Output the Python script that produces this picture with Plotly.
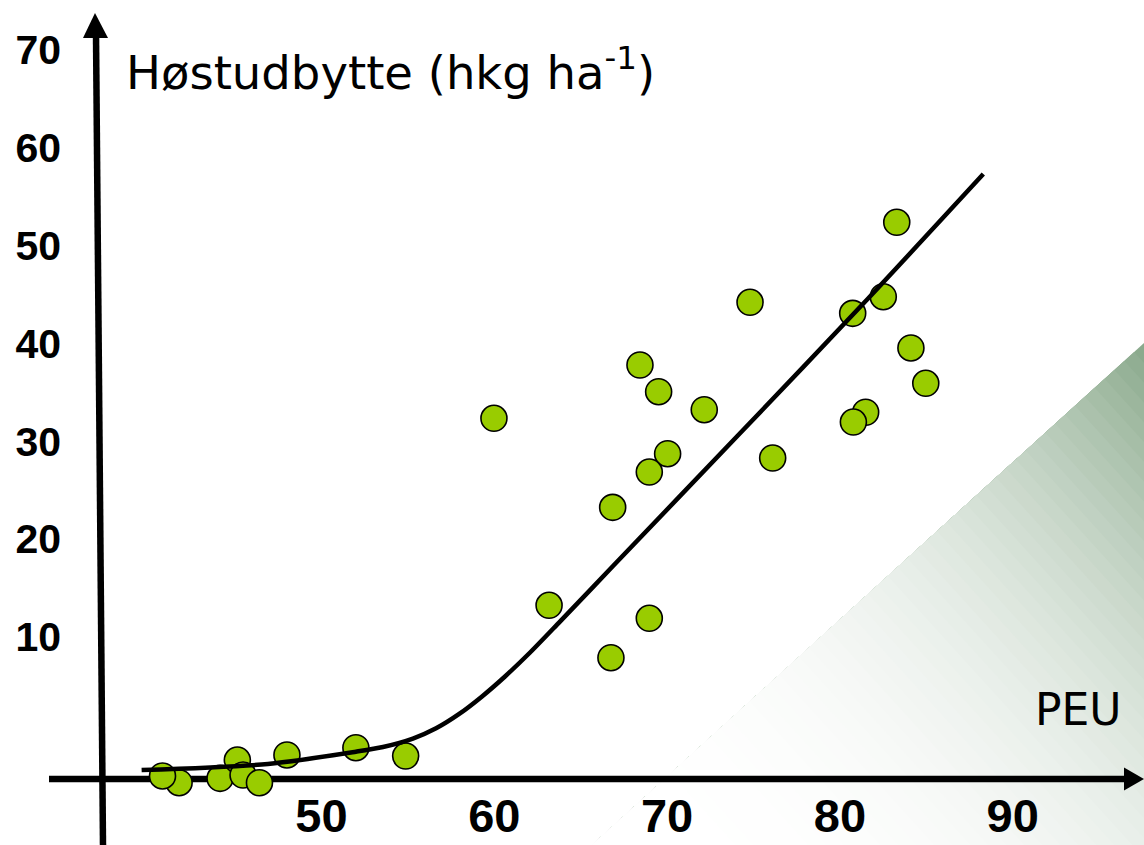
import plotly.graph_objects as go

W, H = 1144, 845

# ---------------- data ----------------
peu = [41.76, 40.80, 44.13, 45.13, 45.46, 46.41, 48.00, 51.99, 54.87,
       59.98, 63.17, 66.75, 66.85, 68.43, 68.97, 70.03, 68.97, 69.51,
       72.15, 74.80, 76.11, 81.49, 80.78, 80.74, 82.51, 83.29, 84.11, 84.97]
hostudbytte = [-4.90, -4.21, -4.45, -2.58, -4.11, -4.90, -2.06, -1.32, -2.17,
               32.35, 13.24, 7.88, 23.25, 37.80, 11.91, 28.73, 26.86, 35.07,
               33.23, 44.21, 28.29, 32.97, 31.97, 43.08, 44.78, 52.39, 39.54, 35.93]

curve_x = [39.59, 46.90, 51.99, 53.56, 55.29, 56.63, 57.97, 59.29, 60.62, 62.07,
           63.80, 66.87, 74.22, 81.55, 88.30]
curve_y = [-3.60, -2.98, -1.73, -1.25, -0.39, 0.66, 2.13, 3.92, 5.96, 8.41,
           11.57, 17.25, 30.82, 44.44, 57.32]

x_ticks = [50, 60, 70, 80, 90]
y_ticks = [10, 20, 30, 40, 50, 60, 70]

y_title = "Høstudbytte (hkg ha<sup>-1</sup>)"
x_title = "PEU"

# ---------------- layout geometry (pixels) ----------------
X_AX_PX = 779     # pixel row of the horizontal axis
Y_AX_PX = 99      # pixel column of the vertical axis
PX_PER_X = 17.28
X70_PX = 667.1
PX_PER_Y = 9.783
Y0_PX = 734.8

x_at = lambda px: 70 + (px - X70_PX) / PX_PER_X
y_at = lambda py: (Y0_PX - py) / PX_PER_Y
px2paper = lambda px, py: (px / W, 1 - py / H)

fig = go.Figure()

fig.add_trace(go.Scatter(
    x=peu, y=hostudbytte, mode="markers",
    marker=dict(size=26, color="#99cc00", line=dict(color="black", width=1.6)),
    hoverinfo="skip", showlegend=False, cliponaxis=False))

fig.add_trace(go.Scatter(
    x=curve_x, y=curve_y, mode="lines",
    line=dict(color="black", width=4.5, shape="spline", smoothing=0.8),
    hoverinfo="skip", showlegend=False, cliponaxis=False))

# ---------------- gradient triangle in the lower right ----------------
A = (1144.0, 343.0)
B = (1144.0, 845.0)
C = (592.0, 845.0)
ux, uy = C[0] - A[0], C[1] - A[1]
LEN = (ux * ux + uy * uy) ** 0.5
ux, uy = ux / LEN, uy / LEN


def tval(p):
    return ((p[0] - A[0]) * ux + (p[1] - A[1]) * uy) / LEN


def clip(poly, t0):
    out = []
    n = len(poly)
    for i in range(n):
        p, q = poly[i], poly[(i + 1) % n]
        tp, tq = tval(p) - t0, tval(q) - t0
        if tp >= 0:
            out.append(p)
        if (tp >= 0) != (tq >= 0):
            f = tp / (tp - tq)
            out.append((p[0] + f * (q[0] - p[0]), p[1] + f * (q[1] - p[1])))
    return out


dark = (136, 168, 138)
shapes = []
N = 56
for k in range(N):
    t0 = k / N
    poly = clip([A, B, C], t0)
    if len(poly) < 3:
        continue
    tm = (k + 0.5) / N
    L = 1 - (1 - tm) ** 2.8
    col = "rgb(%d,%d,%d)" % tuple(round(c + (255 - c) * L) for c in dark)
    pts = [px2paper(*p) for p in poly]
    path = "M " + " L ".join("%.5f,%.5f" % p for p in pts) + " Z"
    shapes.append(dict(type="path", path=path, xref="paper", yref="paper",
                       fillcolor=col, line=dict(width=0), layer="below"))

# ---------------- axis arrows ----------------
lw = 6.5
x0p, y0p = px2paper(49, X_AX_PX)
x1p, _ = px2paper(1128, X_AX_PX)
shapes.append(dict(type="line", xref="paper", yref="paper", x0=x0p, y0=y0p, x1=x1p, y1=y0p,
                   line=dict(color="black", width=lw), layer="below"))
tri = [px2paper(1144, X_AX_PX), px2paper(1124, X_AX_PX - 11.5), px2paper(1124, X_AX_PX + 11.5)]
shapes.append(dict(type="path", xref="paper", yref="paper",
                   path="M " + " L ".join("%.5f,%.5f" % p for p in tri) + " Z",
                   fillcolor="black", line=dict(width=0), layer="below"))

ya0 = px2paper(103, 845)
ya1 = px2paper(96, 34)
shapes.append(dict(type="line", xref="paper", yref="paper", x0=ya0[0], y0=ya0[1], x1=ya1[0], y1=ya1[1],
                   line=dict(color="black", width=lw), layer="below"))
tri = [px2paper(95, 13), px2paper(83, 38), px2paper(108, 38)]
shapes.append(dict(type="path", xref="paper", yref="paper",
                   path="M " + " L ".join("%.5f,%.5f" % p for p in tri) + " Z",
                   fillcolor="black", line=dict(width=0), layer="below"))

annotations = [
    dict(text=y_title, xref="paper", yref="paper", x=124 / W, y=1 - 70 / H,
         xanchor="left", yanchor="middle", showarrow=False,
         font=dict(family="DejaVu Sans", size=46.5, color="black")),
    dict(text=x_title, xref="paper", yref="paper", x=1124 / W, y=1 - 709 / H,
         xanchor="right", yanchor="middle", showarrow=False,
         font=dict(family="DejaVu Sans", size=44, color="black")),
]

fig.update_layout(
    width=W, height=H,
    margin=dict(l=0, r=0, t=0, b=0),
    paper_bgcolor="white", plot_bgcolor="rgba(0,0,0,0)",
    shapes=shapes, annotations=annotations,
    showlegend=False,
    xaxis=dict(domain=[0, 1], range=[x_at(0), x_at(W)],
               anchor="free", position=1 - X_AX_PX / H,
               tickvals=x_ticks, ticktext=[str(v) for v in x_ticks],
               showgrid=False, zeroline=False, showline=False, ticks="",
               tickfont=dict(family="Liberation Sans, Arial", size=47, color="black", weight="bold"),
               ticklabelstandoff=5, automargin=False, fixedrange=True),
    yaxis=dict(domain=[0, 1], range=[y_at(H), y_at(0)],
               anchor="free", position=Y_AX_PX / W,
               tickvals=y_ticks, ticktext=[str(v) for v in y_ticks],
               showgrid=False, zeroline=False, showline=False, ticks="",
               tickfont=dict(family="Liberation Sans, Arial", size=41, color="black", weight="bold"),
               ticklabelstandoff=38, automargin=False, fixedrange=True),
)

fig.write_html("out.html", config={"displayModeBar": False},
               post_script="document.body.style.margin='0';document.body.style.overflow='hidden';")
